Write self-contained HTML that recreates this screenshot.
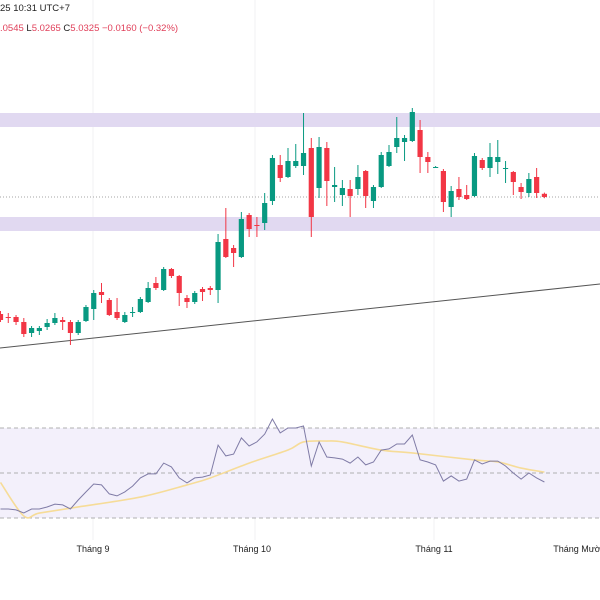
<!DOCTYPE html>
<html><head><meta charset="utf-8"><style>
html,body{margin:0;padding:0;background:#fff;width:600px;height:600px;overflow:hidden;font-family:"Liberation Sans",sans-serif}
svg{display:block}
</style></head><body>
<svg id="c" width="600" height="600" xmlns="http://www.w3.org/2000/svg">
<g>
<line x1="93" y1="0" x2="93" y2="540" stroke="#f0f0f3"/>
<line x1="255" y1="0" x2="255" y2="540" stroke="#f0f0f3"/>
<line x1="434" y1="0" x2="434" y2="540" stroke="#f0f0f3"/>
</g>
<rect x="0" y="113" width="600" height="14" fill="#e1d9f1"/>
<rect x="0" y="217" width="600" height="14" fill="#e1d9f1"/>
<line x1="0" y1="197" x2="600" y2="197" stroke="#888" stroke-dasharray="1,2" stroke-width="0.8"/>
<line x1="0" y1="348" x2="600" y2="284" stroke="#555" stroke-width="1"/>
<g id="candles"></g>
<g>
<rect x="0" y="428" width="600" height="90" fill="#f3f0fb"/>
<line x1="0" y1="428" x2="600" y2="428" stroke="#999" stroke-dasharray="4,3" stroke-width="0.8"/>
<line x1="0" y1="473" x2="600" y2="473" stroke="#999" stroke-dasharray="4,3" stroke-width="0.8"/>
<line x1="0" y1="518" x2="600" y2="518" stroke="#999" stroke-dasharray="4,3" stroke-width="0.8"/>
<path id="ma" fill="none" stroke="#f6dc98" stroke-width="1.6"/>
<path id="rsi" fill="none" stroke="#7f7ba6" stroke-width="1"/>
</g>
<g font-size="9" fill="#222" text-anchor="middle">
<text x="93" y="552">Tháng 9</text>
<text x="252" y="552">Tháng 10</text>
<text x="434" y="552">Tháng 11</text>
<text x="578" y="552">Tháng Mười</text>
</g>
<g font-size="9.5">
<text x="0" y="11" fill="#222">25 10:31 UTC+7</text>
<text x="0" y="31"><tspan fill="#e0405a">.0545 </tspan><tspan fill="#222">L</tspan><tspan fill="#e0405a">5.0265 </tspan><tspan fill="#222">C</tspan><tspan fill="#e0405a">5.0325 −0.0160 (−0.32%)</tspan></text>
</g>
</svg>
<script>
const opens=[4.4475,4.4325,4.4325,4.4075,4.3525,4.3625,4.3825,4.4025,4.4175,4.4075,4.3525,4.4125,4.4725,4.5575,4.5175,4.4575,4.4075,4.4525,4.4575,4.5075,4.6025,4.5675,4.6725,4.6375,4.5275,4.5075,4.5725,4.5775,4.5675,4.8225,4.7775,4.7325,4.9425,4.8925,4.9025,5.0125,5.1925,5.1325,5.1875,5.1875,5.2775,5.0775,5.2775,5.0825,5.0425,5.0725,5.0725,5.1625,5.0125,5.0825,5.1875,5.2825,5.3075,5.3125,5.3675,5.2325,5.1825,5.1625,4.9825,5.0725,5.0425,5.0375,5.2175,5.1775,5.2075,5.1775,5.1575,5.0825,5.0525,5.1325,5.0485];
const highs=[4.4625,4.4525,4.4425,4.4275,4.3875,4.3875,4.4225,4.4525,4.4325,4.4175,4.4175,4.4925,4.5675,4.6025,4.5275,4.5275,4.4575,4.4825,4.5325,4.6075,4.6325,4.6825,4.6775,4.6425,4.5425,4.5625,4.5825,4.5875,4.8475,4.9775,4.7925,4.9575,4.9525,4.9325,5.0525,5.2425,5.2425,5.2775,5.2975,5.4525,5.3275,5.3325,5.3075,5.1825,5.1175,5.1175,5.1925,5.1675,5.0925,5.2575,5.2925,5.4325,5.3425,5.4775,5.4175,5.2575,5.1875,5.1725,5.0875,5.1325,5.0925,5.2525,5.2275,5.3025,5.3175,5.2125,5.1625,5.1025,5.1525,5.1775,5.0545];
const lows=[4.4075,4.4025,4.3925,4.3325,4.3325,4.3425,4.3675,4.3925,4.3675,4.2925,4.3425,4.4075,4.4175,4.5025,4.4375,4.4175,4.4025,4.4325,4.4525,4.5025,4.5675,4.5625,4.6275,4.4875,4.4775,4.4975,4.5125,4.5425,4.5025,4.7275,4.6825,4.7275,4.8325,4.8325,4.8675,4.9925,5.1075,5.1275,5.1775,5.1425,4.8325,5.0275,4.9875,5.0075,4.9875,4.9325,5.0425,4.9775,4.9775,5.0775,5.1825,5.2525,5.2125,5.3075,5.1525,5.1525,5.1775,4.9575,4.9325,5.0175,5.0175,5.0325,5.1675,5.1325,5.1475,5.1025,5.0425,5.0225,5.0325,5.0275,5.0265];
const closes=[4.4175,4.4300,4.4075,4.3475,4.3775,4.3775,4.4025,4.4275,4.4075,4.3525,4.4075,4.4825,4.5525,4.5425,4.4425,4.4275,4.4425,4.4575,4.5225,4.5775,4.5775,4.6725,4.6375,4.5525,4.5075,4.5525,4.5575,4.5675,4.8075,4.7325,4.7525,4.9225,4.8725,4.8875,5.0025,5.2275,5.1275,5.2125,5.2125,5.2525,4.9325,5.2825,5.1125,5.0925,5.0775,5.0375,5.1325,5.0375,5.0825,5.2425,5.2575,5.3275,5.3275,5.4575,5.2325,5.2075,5.1825,5.0075,5.0625,5.0325,5.0225,5.2375,5.1775,5.2325,5.2325,5.1775,5.1075,5.0575,5.1225,5.0525,5.0325];
const rsiValues=[34.0,34.0,33.6,32.2,34.0,34.0,34.9,36.2,35.8,34.0,38.0,41.6,45.1,44.7,40.7,39.8,41.6,44.2,47.8,49.6,49.6,54.4,52.7,47.8,45.6,47.8,48.2,49.1,62.4,57.6,58.4,65.6,62.0,63.8,67.3,74.0,67.8,70.0,70.0,70.9,53.1,63.8,57.1,56.7,56.2,54.4,57.1,53.6,54.9,60.2,60.7,62.9,62.9,66.9,55.8,54.9,53.6,46.4,48.7,46.4,47.3,55.8,54.0,55.3,55.3,53.1,50.0,47.3,50.0,47.8,46.0];
const maIndex=[0,3,5,10,18,24,27,32,37,39,42,44,49,53,61,64,67,70];
const maValues=[45.8,30.9,32.2,34.9,39.3,44.7,47.8,54.4,60.2,63.8,64.2,63.8,60.2,58.9,55.8,54.9,52.2,50.4];

const NS='http://www.w3.org/2000/svg';
const xAt=i=>0.5+i*7.77;
const yP=p=>(6.0175-p)/0.005;
const yR=v=>473-(v-50)*2.25;
const g=document.getElementById('candles');
for(let i=0;i<opens.length;i++){
  const up=closes[i]>=opens[i];
  const col=up?'#089981':'#f23645';
  const x=xAt(i);
  const w=document.createElementNS(NS,'line');
  
  
  w.setAttribute('x1',x);w.setAttribute('x2',x);
  w.setAttribute('y1',yP(highs[i]));w.setAttribute('y2',yP(lows[i]));
  w.setAttribute('stroke',col);w.setAttribute('stroke-width','1');
  g.appendChild(w);
  const r=document.createElementNS(NS,'rect');
  
  
  const t=yP(Math.max(opens[i],closes[i])),b=yP(Math.min(opens[i],closes[i]));
  r.setAttribute('x',x-2.6);r.setAttribute('width',5.2);
  r.setAttribute('y',t);r.setAttribute('height',Math.max(1,b-t));
  r.setAttribute('fill',col);
  g.appendChild(r);
}
document.getElementById('rsi').setAttribute('d',rsiValues.map((v,i)=>(i?'L':'M')+xAt(i).toFixed(1)+','+yR(v).toFixed(1)).join(''));
// smooth MA via Catmull-Rom
const pts=maIndex.map((k,j)=>[xAt(k),yR(maValues[j])]);
let d='M'+pts[0][0]+','+pts[0][1];
for(let j=0;j<pts.length-1;j++){
  const p0=pts[j-1]||pts[j],p1=pts[j],p2=pts[j+1],p3=pts[j+2]||p2;
  const c1=[p1[0]+(p2[0]-p0[0])/6,p1[1]+(p2[1]-p0[1])/6];
  const c2=[p2[0]-(p3[0]-p1[0])/6,p2[1]-(p3[1]-p1[1])/6];
  d+='C'+c1.join(',')+' '+c2.join(',')+' '+p2.join(',');
}
document.getElementById('ma').setAttribute('d',d);
</script>
</body></html>
